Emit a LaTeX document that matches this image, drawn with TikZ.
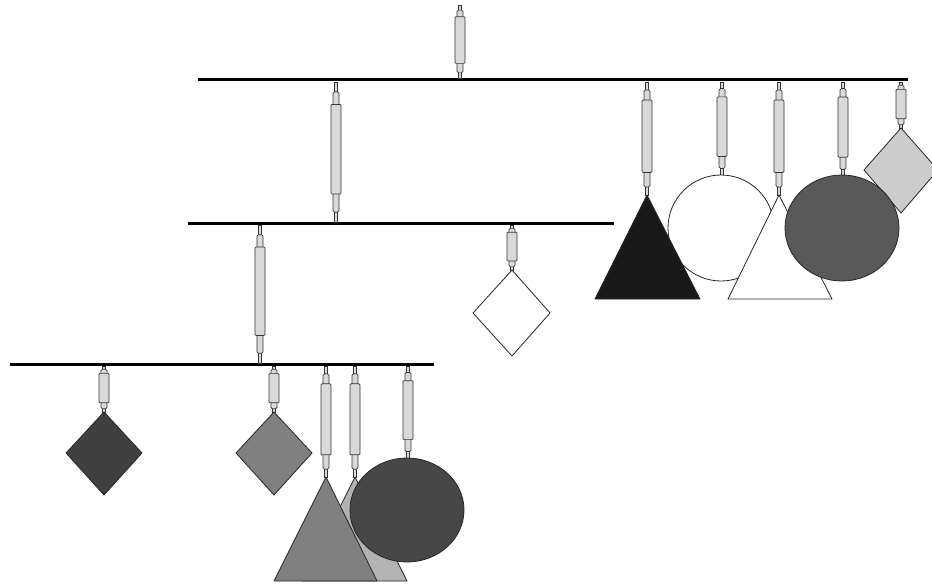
\documentclass[tikz,border=0pt]{standalone}
\usepackage{tikz}
\usetikzlibrary{calc}

% one hanger: x, top y, bottom y (picture units, y grows downwards)
\newcommand{\hanger}[3]{%
  \pgfmathsetmacro{\hlen}{#3-#2}
  \draw[rod] (#1-1.5,#2) rectangle (#1+1.5,#3);
  \draw[rod, rounded corners=1.5] (#1-3,#2+0.07*\hlen) rectangle (#1+3,#3-0.07*\hlen);
  \draw[rod, rounded corners=1] (#1-5,#2+0.16*\hlen) rectangle (#1+5,#3-0.2*\hlen);
}

\begin{document}
\begin{tikzpicture}[
    x=1pt, y=-1pt,
    bar/.style={line width=3pt},
    rod/.style={draw=black!80, fill=black!15, line width=0.7pt},
    piece/.style={draw=black!85, line width=0.8pt, line join=round},
]
    \useasboundingbox (0,0) rectangle (932,586);

    % bars
    \draw[bar] (198,80) -- (908,80);
    \draw[bar] (188,223) -- (614,223);
    \draw[bar] (10,364) -- (434,364);

    % hangers
    \hanger{460}{5}{78}
    \hanger{336}{82}{222}
    \hanger{647}{82}{195}
    \hanger{722}{82}{175}
    \hanger{779}{82}{195}
    \hanger{843}{82}{176}
    \hanger{901}{82}{128}
    \hanger{260}{225}{363}
    \hanger{512}{225}{270}
    \hanger{104}{366}{412}
    \hanger{274}{366}{412}
    \hanger{326}{366}{477}
    \hanger{355}{366}{477}
    \hanger{408}{366}{458}

    % top group
    \draw[piece, fill=white] (721,228) circle (53);
    \draw[piece, fill=black!90] (647,195) -- (595,299) -- (700,299) -- cycle;
    \draw[piece, fill=white] (779,195) -- (728,299) -- (832,299) -- cycle;
    \draw[piece, fill=black!20] (901,128) -- (864,170) -- (901,213) -- (938,170) -- cycle;
    \draw[piece, fill=black!65] (842,228) ellipse (57 and 53);

    % middle group
    \draw[piece, fill=white] (512,270) -- (473,313) -- (512,356) -- (550,313) -- cycle;

    % bottom group
    \draw[piece, fill=black!75] (104,412) -- (66,453) -- (104,495) -- (142,453) -- cycle;
    \draw[piece, fill=black!50] (274,412) -- (236,453) -- (274,495) -- (312,453) -- cycle;
    \draw[piece, fill=black!30] (355,477) -- (303,581) -- (407,581) -- cycle;
    \draw[piece, fill=black!50] (326,477) -- (274,581) -- (377,581) -- cycle;
    \draw[piece, fill=black!72] (407,510) ellipse (57 and 52);
\end{tikzpicture}
\end{document}
